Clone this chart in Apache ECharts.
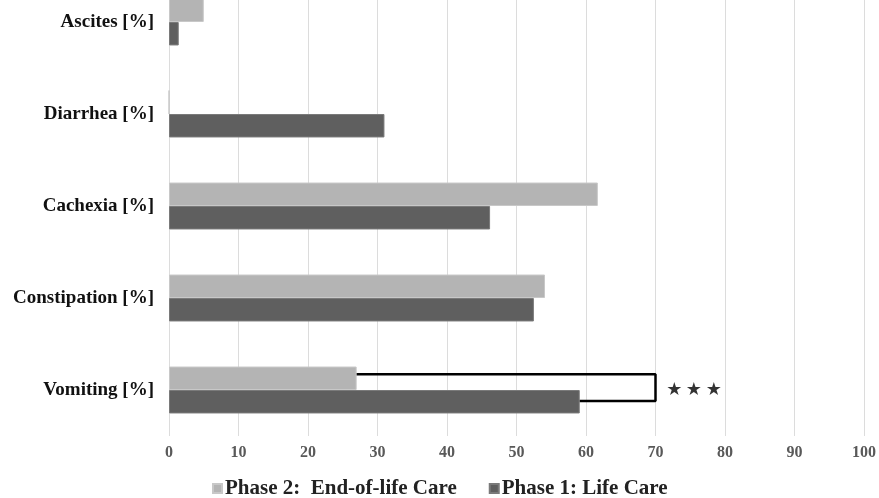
<!DOCTYPE html>
<html><head><meta charset="utf-8">
<script src="https://cdn.jsdelivr.net/npm/echarts@6/dist/echarts.min.js"></script>
<style>html,body{margin:0;padding:0;background:#fff;overflow:hidden}#c{width:879px;height:522px;margin-top:-24px}</style>
</head><body><div id="c"></div>
<script>
const categories = ['Vomiting [%]', 'Constipation [%]', 'Cachexia [%]', 'Diarrhea [%]', 'Ascites [%]'];
const phase2 = [27.0, 54.1, 61.7, 0, 5.0];
const phase1 = [59.1, 52.5, 46.2, 31.0, 1.4];
const xTicks = [0, 10, 20, 30, 40, 50, 60, 70, 80, 90, 100];
const bracketPoints = [[27.0, 0.17], [70, 0.17], [70, -0.12], [59.1, -0.12]];
const starPoints = [[72.7, 0.0], [75.5, 0.0], [78.4, 0.0]];
const names = ['Phase 2:  End-of-life Care', 'Phase 1: Life Care'];

const font = 'Liberation Serif';
const chart = echarts.init(document.getElementById('c'));
chart.setOption({
  animation: false,
  grid: { left: 169, right: 15, top: 0, bottom: 62, containLabel: false },
  legend: {
    data: names, top: 497, left: 207, itemWidth: 9, itemHeight: 9, itemGap: 32,
    icon: 'rect',
    textStyle: { fontFamily: font, fontWeight: 'bold', fontSize: 21, color: '#222', padding: [0, 0, 0, -2] }
  },
  xAxis: {
    type: 'value', min: 0, max: 100, interval: 10,
    axisLine: { show: false }, axisTick: { show: false },
    splitLine: { lineStyle: { color: '#dcdcdc', width: 1 } },
    axisLabel: { fontFamily: font, fontWeight: 'bold', fontSize: 16, color: '#595959', margin: 9,
      formatter: v => xTicks.includes(v) ? String(v) : '' }
  },
  yAxis: [{
    type: 'category', data: categories,
    axisLine: { show: false }, axisTick: { show: false },
    axisLabel: { fontFamily: font, fontWeight: 'bold', fontSize: 19, color: '#111', margin: 15 }
  }, {
    type: 'value', min: -0.5, max: 4.5, show: false
  }],
  series: [
    { name: names[0], type: 'bar', data: phase2, barGap: '0%', barCategoryGap: '49%',
      itemStyle: { color: '#b4b4b4', borderColor: '#c8c8c8', borderWidth: 1 } },
    { name: names[1], type: 'bar', data: phase1, barGap: '0%', barCategoryGap: '49%',
      itemStyle: { color: '#5f5f5f', borderColor: '#7a7a7a', borderWidth: 1 } },
    { type: 'line', yAxisIndex: 1, data: bracketPoints, symbol: 'none', silent: true,
      lineStyle: { color: '#000', width: 2.5 }, z: 5 },
    { type: 'scatter', yAxisIndex: 1, data: starPoints, symbolSize: 0, silent: true,
      label: { show: true, position: 'inside', formatter: '★', fontSize: 18, color: '#000',
        fontFamily: 'DejaVu Sans' } }
  ]
});
</script></body></html>
